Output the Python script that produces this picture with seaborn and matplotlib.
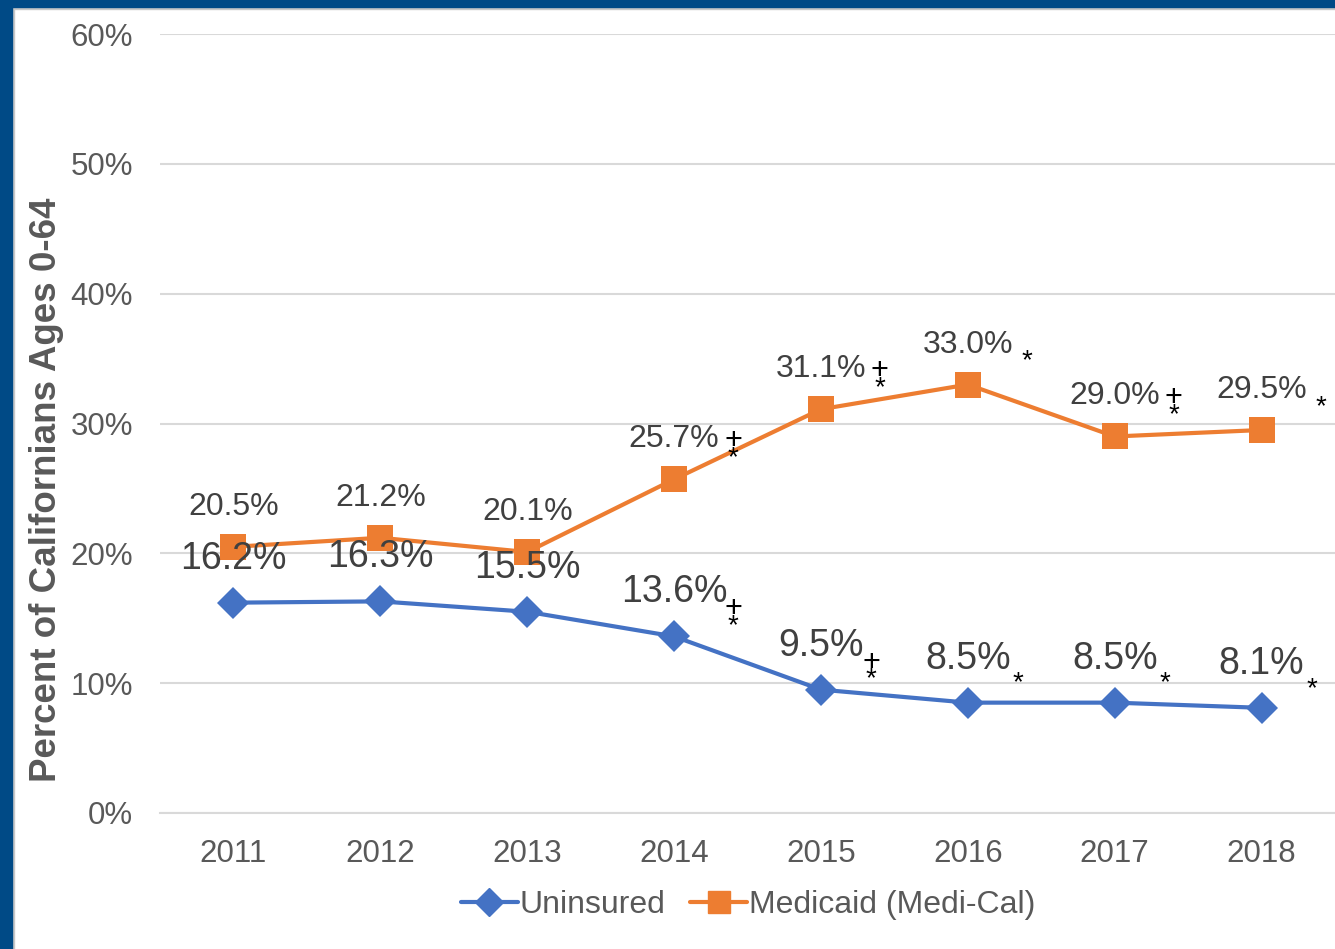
import pandas as pd
import numpy as np
import matplotlib.pyplot as plt
import seaborn as sns
from matplotlib.patches import Rectangle
from matplotlib.lines import Line2D

years = ['2011', '2012', '2013', '2014', '2015', '2016', '2017', '2018']
uninsured = [16.2, 16.3, 15.5, 13.6, 9.5, 8.5, 8.5, 8.1]
medicaid = [20.5, 21.2, 20.1, 25.7, 31.1, 33.0, 29.0, 29.5]
# significance marks next to each label
uninsured_notes = ['', '', '', '+*', '+*', '*', '*', '*']
medicaid_notes = ['', '', '', '+*', '+*', '*', '+*', '*']
yticks = [0, 10, 20, 30, 40, 50, 60]

blue = '#4472C4'
orange = '#ED7D31'

df = pd.DataFrame({'Year': years * 2,
                   'Value': uninsured + medicaid,
                   'Series': ['Uninsured'] * 8 + ['Medicaid (Medi-Cal)'] * 8})

sns.set_theme(style='white')
plt.rcParams['font.family'] = ['Liberation Sans', 'DejaVu Sans']

fig = plt.figure(figsize=(13.35, 9.49), dpi=100)
ax = fig.add_axes([160 / 1335, 1 - 813 / 949, 1175 / 1335, 779 / 949])

sns.lineplot(data=df, x='Year', y='Value', hue='Series', style='Series',
             palette={'Uninsured': blue, 'Medicaid (Medi-Cal)': orange},
             markers={'Uninsured': 'D', 'Medicaid (Medi-Cal)': 's'},
             dashes=False, markersize=15, markeredgewidth=0, linewidth=3,
             legend=False, ax=ax, zorder=3)
for ln in ax.lines:
    if ln.get_marker() == 'D':
        ln.set_markersize(16)
    else:
        ln.set_markersize(19)

ax.set_xlim(-0.5, 7.5)
ax.set_ylim(0, 60)
ax.set_yticks(yticks)
ax.set_yticklabels([f'{t}%' for t in yticks])
ax.yaxis.grid(True, color='#D9D9D9', linewidth=1.5)
ax.set_axisbelow(True)
for s in ['top', 'right', 'left']:
    ax.spines[s].set_visible(False)
ax.spines['bottom'].set_color('#D9D9D9')
ax.spines['bottom'].set_linewidth(1.5)
ax.tick_params(axis='both', length=0, labelsize=22.5, labelcolor='#595959')
ax.tick_params(axis='y', pad=19.5)
ax.tick_params(axis='x', pad=19)
ax.set_xlabel('')
ax.set_ylabel('Percent of Californians Ages 0-64', fontsize=26.5,
              fontweight='bold', color='#595959')
ax.yaxis.set_label_coords(-96 / 1175, 0.415)


def add_labels(values, notes, size, dy, note_dy, star_dy, dx_note, color='#404040'):
    for i, (v, n) in enumerate(zip(values, notes)):
        ax.annotate(f'{v:.1f}%', (i, v), xytext=(0, dy), textcoords='offset pixels',
                    ha='center', va='center', fontsize=size, color=color)
        dx = dx_note if v >= 10 else dx_note - 9
        if n == '+*':
            ax.annotate('+', (i, v), xytext=(dx, note_dy - 2), textcoords='offset pixels',
                        ha='center', va='center', fontsize=22, color='black')
            ax.annotate('*', (i, v), xytext=(dx, note_dy - 19), textcoords='offset pixels',
                        ha='center', va='center', fontsize=20, color='black')
        elif n == '*':
            ax.annotate('*', (i, v), xytext=(dx, star_dy), textcoords='offset pixels',
                        ha='center', va='center', fontsize=20, color='black')


add_labels(medicaid, medicaid_notes, 23, 40, 40, 23, 59)
add_labels(uninsured, uninsured_notes, 27, 44, 29, 19, 59)

handles = [Line2D([], [], color=blue, marker='D', markersize=14, linewidth=3),
           Line2D([], [], color=orange, marker='s', markersize=16, linewidth=3)]
fig.legend(handles, ['Uninsured', 'Medicaid (Medi-Cal)'], loc='center',
           bbox_to_anchor=(748 / 1335, 1 - 905 / 949), ncol=2, frameon=False,
           fontsize=23, labelcolor='#595959', handlelength=1.78,
           handletextpad=0.05, columnspacing=0.78)

# dark blue frame on left and top, with a faint grey inner edge
fig.add_artist(Rectangle((12 / 1335, 0), 1.5 / 1335, 1 - 7 / 949, transform=fig.transFigure,
                         color='#C8C8C8', zorder=9))
fig.add_artist(Rectangle((12 / 1335, 1 - 8.5 / 949), 1, 1.5 / 949, transform=fig.transFigure,
                         color='#C8C8C8', zorder=9))
fig.add_artist(Rectangle((0, 0), 12 / 1335, 1, transform=fig.transFigure,
                         color='#004A86', zorder=10))
fig.add_artist(Rectangle((0, 1 - 7 / 949), 1, 7 / 949, transform=fig.transFigure,
                         color='#004A86', zorder=10))

plt.savefig('out.png', dpi=100)
